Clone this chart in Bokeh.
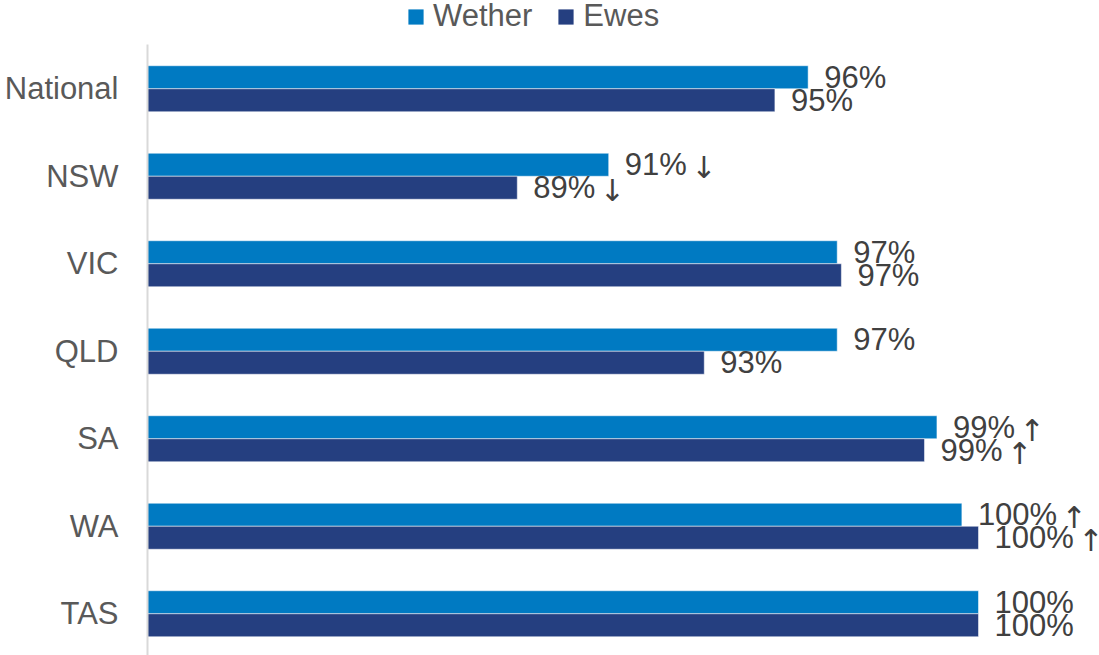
from bokeh.plotting import figure
from bokeh.layouts import column
from bokeh.models import Range1d, ColumnDataSource, Legend, LegendItem, FixedTicker
from bokeh.core.properties import value
from bokeh.embed import file_html
from bokeh.resources import INLINE

categories = ["National", "NSW", "VIC", "QLD", "SA", "WA", "TAS"]
wether = [95.9, 91.1, 96.6, 96.6, 99.0, 99.6, 100.0]
ewes = [95.1, 88.9, 96.7, 93.4, 98.7, 100.0, 100.0]
wether_trend = ["", "\u2193", "", "", "\u2191", "\u2191", ""]
ewes_trend = ["", "\u2193", "", "", "\u2191", "\u2191", ""]
series_names = ["Wether", "Ewes"]

FONT = value("Liberation Sans")
FS = 31
WETHER_C = "#007AC2"
EWES_C = "#253F80"

n = len(categories)
ypos = [n - 1 - i for i in range(n)]
half = 0.1315
bar_h = 0.263
LABEL_OFF = 16
ARROW_GAP = 17

def pct(v):
    return f"{round(v)}%"

def text_w(s):
    # Arial / Liberation Sans advance widths (em)
    return sum(0.889 if ch == "%" else 0.556 for ch in s) * FS

def make_src(vals, trend, shift):
    labels = [pct(v) for v in vals]
    return ColumnDataSource(dict(
        y=[y + shift for y in ypos], right=vals, label=labels, arrow=trend,
        aoff=[LABEL_OFF + text_w(s) + ARROW_GAP for s in labels]))

src_w = make_src(wether, wether_trend, half)
src_e = make_src(ewes, ewes_trend, -half)

W, H = 1099, 655
TOP = 44
LEFT = 147
frame_h = H - TOP
frame_w = W - LEFT
x_start = 80
px_per_unit = 41.55
y_end = 6.5 + 0.5 / 87.5

# ---- legend strip ----
leg = figure(width=W, height=TOP, output_backend="svg", toolbar_location=None,
             x_range=Range1d(0, 1), y_range=Range1d(0, 1),
             x_axis_location=None, y_axis_location=None,
             min_border=0)
leg.outline_line_color = None
leg.xgrid.visible = False
leg.ygrid.visible = False
lw = leg.hbar(y="y", left=x_start, right="right", height=bar_h, source=src_w,
              fill_color=WETHER_C, line_color=None, visible=False)
le = leg.hbar(y="y", left=x_start, right="right", height=bar_h, source=src_e,
              fill_color=EWES_C, line_color=None, visible=False)
legend = Legend(items=[LegendItem(label=series_names[0], renderers=[lw]),
                       LegendItem(label=series_names[1], renderers=[le])],
                orientation="horizontal", location=(406 - LEFT, 10),
                glyph_width=19, glyph_height=19, label_standoff=8, spacing=24,
                padding=0, margin=0, border_line_color=None,
                background_fill_alpha=0, inactive_fill_alpha=0,
                label_text_font="Liberation Sans", label_text_font_size=f"{FS}px",
                label_text_color="#595959")
leg.add_layout(legend)

# ---- main chart ----
p = figure(width=W, height=frame_h, output_backend="svg", toolbar_location=None,
           x_range=Range1d(x_start, x_start + frame_w / px_per_unit),
           y_range=Range1d(y_end - frame_h / 87.5, y_end),
           x_axis_location=None, min_border_left=LEFT, min_border_right=0,
           min_border_bottom=0, min_border_top=0)
p.outline_line_color = None
p.xgrid.visible = False
p.ygrid.visible = False

rw = p.hbar(y="y", left=x_start, right="right", height=bar_h, source=src_w,
            fill_color=WETHER_C, line_color="white", line_alpha=0.5, line_width=1)
re = p.hbar(y="y", left=x_start, right="right", height=bar_h, source=src_e,
            fill_color=EWES_C, line_color="white", line_alpha=0.5, line_width=1)

for src in (src_w, src_e):
    p.text(x="right", y="y", text="label", source=src, x_offset=LABEL_OFF,
           text_font=FONT, text_font_size=f"{FS}px", text_color="#404040",
           text_baseline="middle", text_align="left")
    p.text(x="right", y="y", text="arrow", source=src, x_offset="aoff",
           y_offset=3, text_font=value("DejaVu Sans"), text_font_size="30px",
           text_color="#404040", text_baseline="middle", text_align="center")

yax = p.yaxis[0]
yax.ticker = FixedTicker(ticks=ypos)
yax.major_label_overrides = {y: c for y, c in zip(ypos, categories)}
yax.major_label_text_font = "Liberation Sans"
yax.major_label_text_font_size = f"{FS}px"
yax.major_label_text_color = "#595959"
yax.major_label_standoff = 29
yax.major_tick_in = 0
yax.major_tick_out = 0
yax.minor_tick_in = 0
yax.minor_tick_out = 0
yax.axis_line_color = "#D9D9D9"
yax.axis_line_width = 2

layout = column(leg, p, spacing=0)
open("out.html", "w").write(file_html(layout, INLINE))
